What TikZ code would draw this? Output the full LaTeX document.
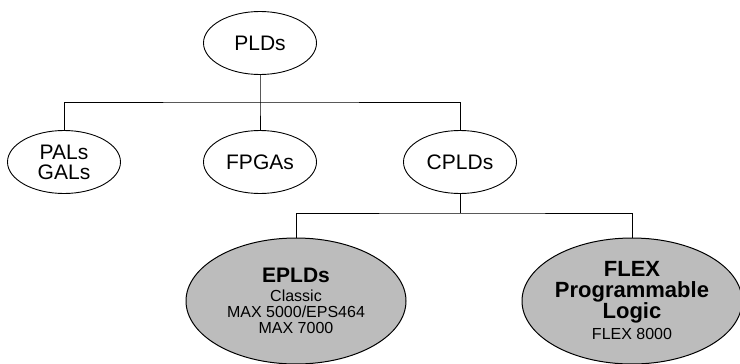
\documentclass[tikz,border=0pt]{standalone}
\usepackage{fontspec}
\setmainfont{Liberation Sans}
\usetikzlibrary{shapes.geometric}
\definecolor{dotgray}{RGB}{188,188,188}

\begin{document}
\begin{tikzpicture}[x=1pt,y=-1pt,
    family/.style={draw, ellipse, line width=0.9pt, inner sep=0pt, minimum width=113pt, minimum height=63pt, align=center, font=\fontsize{21}{20}\selectfont},
    device/.style={draw, ellipse, line width=1pt, fill=dotgray, inner sep=0pt, minimum width=220pt, minimum height=126pt, align=center}]
    \useasboundingbox (0,0) rectangle (740,364);

    \node[family] (plds) at (260,43) {PLDs};
    \node[family] (pals) at (64,162) {PALs\\GALs};
    \node[family] (fpgas) at (260,162) {FPGAs};
    \node[family] (cplds) at (460,162) {CPLDs};

    \node[device, font=\fontsize{16}{16}\selectfont] (eplds) at (296,301)
        {{\fontsize{21}{21}\selectfont\bfseries EPLDs}\\[3pt]Classic\\MAX 5000/EPS464\\MAX 7000};
    \node[device, font=\fontsize{16}{21}\selectfont] (flex) at (632,301)
        {{\fontsize{22}{21}\selectfont\bfseries FLEX}\\{\fontsize{22}{21}\selectfont\bfseries Programmable}\\{\fontsize{22}{21}\selectfont\bfseries Logic}\\FLEX 8000};

    \coordinate (top) at (260,102);
    \coordinate (low) at (460,213);

    \draw[line width=0.9pt] (plds) -- (top) -- (fpgas);
    \draw[line width=0.9pt] (pals) |- (top) -| (cplds);
    \draw[line width=0.9pt] (cplds) -- (low);
    \draw[line width=0.9pt] (eplds) |- (low) -| (flex);
\end{tikzpicture}
\end{document}
